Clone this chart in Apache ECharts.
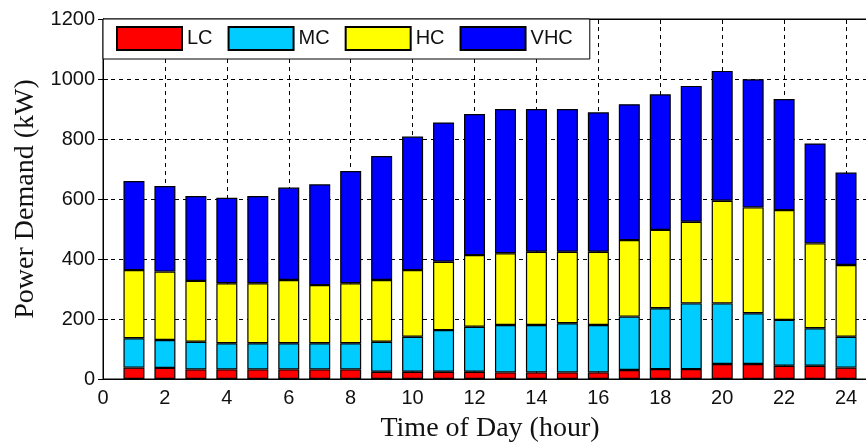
<!DOCTYPE html>
<html>
<head>
<meta charset="utf-8">
<script src="https://cdn.jsdelivr.net/npm/echarts@6/dist/echarts.min.js"></script>
<style>
html,body{margin:0;padding:0;overflow:hidden;background:#fff;width:866px;height:444px;}
#chart{width:900px;height:444px;}
</style>
</head>
<body>
<div id="chart"></div>
<script>
const hours = [1,2,3,4,5,6,7,8,9,10,11,12,13,14,15,16,17,18,19,20,21,22,23,24];
const seriesNames = ['LC','MC','HC','VHC'];
const LC  = [38,37,32,32,32,32,32,32,24,24,24,24,22,22,22,22,30,33,33,50,50,44,44,38];
const MC  = [98,93,92,87,87,87,87,87,100,117,139,150,158,158,164,158,178,203,219,202,169,153,125,103];
const HC  = [227,228,203,200,200,211,194,200,206,222,228,239,239,244,238,244,255,261,272,342,353,366,283,239];
const VHC = [297,285,283,285,291,308,336,374,413,445,464,470,481,476,476,465,453,452,453,433,427,370,333,308];
const xTicks = [0,2,4,6,8,10,12,14,16,18,20,22,24];
const yTicks = [0,200,400,600,800,1000,1200];
const colors = ['#ff0000','#00ccff','#ffff00','#0000ff'];
const xMax = 25;

const values = [LC, MC, HC, VHC];
// category slots 0..xMax so that each hour sits at its own position on the shared scale
const slots = [];
for (let i = 0; i <= xMax; i++) slots.push(String(i));

const chart = echarts.init(document.getElementById('chart'), null, {renderer:'canvas'});
const labelFont = 'Liberation Sans, Arial, sans-serif';
const nameFont = 'Liberation Serif, Times New Roman, serif';
const gridLine = {show:true, lineStyle:{color:'#000', type:[4,4], width:1}};

chart.setOption({
  animation:false,
  grid:{left:103, right:23, top:19, bottom:65, containLabel:false, outerBoundsMode:'none',
        show:true, borderColor:'#000', borderWidth:1},
  legend:{
    left:103, top:19, orient:'horizontal',
    data:seriesNames.map(n => ({name:n, icon:'rect'})),
    itemWidth:65, itemHeight:23, itemGap:15,
    padding:[7,17,8,13],
    backgroundColor:'#fff', borderColor:'#000', borderWidth:1,
    textStyle:{fontFamily:labelFont, fontSize:20, color:'#111'},
    z:10
  },
  xAxis:[{
    type:'category', data:slots, boundaryGap:false,
    axisLine:{show:false}, axisTick:{show:false}, axisLabel:{show:false}, splitLine:{show:false}
  },{
    type:'value', min:0, max:xMax, interval:2, position:'bottom',
    name:'Time of Day (hour)', nameLocation:'middle', nameGap:36,
    nameTextStyle:{fontFamily:nameFont, fontSize:28, color:'#111'},
    axisLine:{show:true, onZero:false, lineStyle:{color:'#000', width:1}},
    axisTick:{show:true, inside:true, length:5, lineStyle:{color:'#000'}},
    axisLabel:{fontFamily:labelFont, fontSize:20, color:'#111', margin:9,
      formatter:v => xTicks.indexOf(v) >= 0 ? String(v) : ''},
    splitLine:gridLine
  },{
    type:'value', position:'top', min:0, max:xMax, interval:2,
    axisLine:{show:true, onZero:false, lineStyle:{color:'#000', width:1}},
    axisTick:{show:true, inside:true, length:5, lineStyle:{color:'#000'}},
    axisLabel:{show:false}, splitLine:{show:false}
  }],
  yAxis:[{
    type:'value', min:0, max:1200, interval:200,
    name:'Power Demand (kW)', nameLocation:'middle', nameGap:62,
    nameTextStyle:{fontFamily:nameFont, fontSize:28, color:'#111'},
    axisLine:{show:true, lineStyle:{color:'#000', width:1}},
    axisTick:{show:true, inside:true, length:5, lineStyle:{color:'#000'}},
    axisLabel:{fontFamily:labelFont, fontSize:20, color:'#111', margin:8,
      formatter:v => yTicks.indexOf(v) >= 0 ? String(v) : ''},
    splitLine:gridLine
  },{
    type:'value', position:'right', min:0, max:1200, interval:200,
    axisLine:{show:true, lineStyle:{color:'#000', width:1}},
    axisTick:{show:true, inside:true, length:5, lineStyle:{color:'#000'}},
    axisLabel:{show:false}, splitLine:{show:false}
  }],
  series: seriesNames.map((n,i) => {
    const data = slots.map(() => '-');
    hours.forEach((h,j) => { data[h] = values[i][j]; });
    return {
      name:n, type:'bar', stack:'total', barWidth:21,
      xAxisIndex:0, yAxisIndex:0,
      itemStyle:{color:colors[i], borderColor:'#000', borderWidth:1.2},
      data
    };
  })
});
</script>
</body>
</html>
